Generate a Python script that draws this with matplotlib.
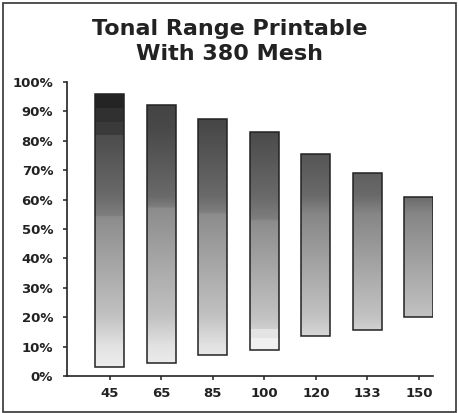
import numpy as np
import matplotlib.pyplot as plt
from matplotlib.colors import LinearSegmentedColormap
from matplotlib.patches import Rectangle

# mesh counts (x categories) and printable tonal range per bar (%)
lpi = ["45", "65", "85", "100", "120", "133", "150"]
range_low = [3, 4.5, 7, 9, 13.5, 15.5, 20]
range_high = [96, 92, 87.5, 83, 75.5, 69, 61]
# where the shade jumps inside a bar (%), None = smooth
shade_step = [54, 57, 55, 53, None, None, None]

y_ticks = [0, 10, 20, 30, 40, 50, 60, 70, 80, 90, 100]


def tone_map(step):
    """grey ramp keyed on the absolute % value, with an optional jump"""
    pts = [(0.00, "#f2f2f2"), (0.10, "#e2e2e2"), (0.20, "#c2c2c2")]
    if step is None:
        pts += [(0.55, "#868686")]
    else:
        s = step / 100
        pts += [(s, "#8c8c8c"), (s + 0.005, "#7e7e7e")]
    pts += [(0.61, "#6a6a6a"), (0.75, "#565656"), (0.85, "#484848"),
            (1.00, "#404040")]
    return LinearSegmentedColormap.from_list("tone", pts)


fig = plt.figure(figsize=(4.59, 4.13), dpi=100)
ax = fig.add_axes([0.146, 0.0896, 0.797, 0.712])

x = np.arange(len(lpi))
w = 0.56
grad = np.linspace(0, 1, 400).reshape(-1, 1)
for xi, lo, hi, st in zip(x, range_low, range_high, shade_step):
    im = ax.imshow(grad, cmap=tone_map(st), origin="lower", aspect="auto",
                   vmin=0, vmax=1, extent=(xi - w / 2, xi + w / 2, 0, 100),
                   zorder=2)
    r = Rectangle((xi - w / 2, lo), w, hi - lo, facecolor="none",
                  edgecolor="#222222", linewidth=1.1, zorder=4)
    ax.add_patch(r)
    im.set_clip_path(r)

# dark steps at the top of the 45 bar, light steps at the foot of the 100 bar
ax.bar(x[0], [96 - 91, 91 - 86.5, 86.5 - 82], w, bottom=[91, 86.5, 82],
       color=["#242424", "#303030", "#3a3a3a"], zorder=3)
ax.bar(x[3], [13 - 9, 16 - 13], w, bottom=[9, 13],
       color=["#f0f0f0", "#e4e4e4"], zorder=3)

ax.set_xlim(-0.83, 6.27)
ax.set_ylim(0, 100)
ax.set_xticks(x)
ax.set_xticklabels(lpi, fontsize=9.5, fontweight="bold", color="#222222")
ax.set_yticks(y_ticks)
ax.set_yticklabels([f"{t}%" for t in y_ticks], fontsize=9.5,
                   fontweight="bold", color="#222222")
ax.tick_params(axis="both", length=3, width=1.1, color="#222222")
ax.tick_params(axis="y", pad=7)
ax.tick_params(axis="x", pad=5)

for s in ["top", "right"]:
    ax.spines[s].set_visible(False)
for s in ["left", "bottom"]:
    ax.spines[s].set_linewidth(1.2)
    ax.spines[s].set_color("#222222")

fig.text(0.5, 0.9, "Tonal Range Printable\nWith 380 Mesh", ha="center",
         va="center", fontsize=16, fontweight="bold", color="#222222",
         linespacing=1.3)

# thin frame around the whole picture
fig.patches.append(Rectangle((0.007, 0.003), 0.986, 0.99, transform=fig.transFigure,
                             fill=False, edgecolor="#333333", linewidth=1.2))

fig.savefig("out.png", dpi=100)
